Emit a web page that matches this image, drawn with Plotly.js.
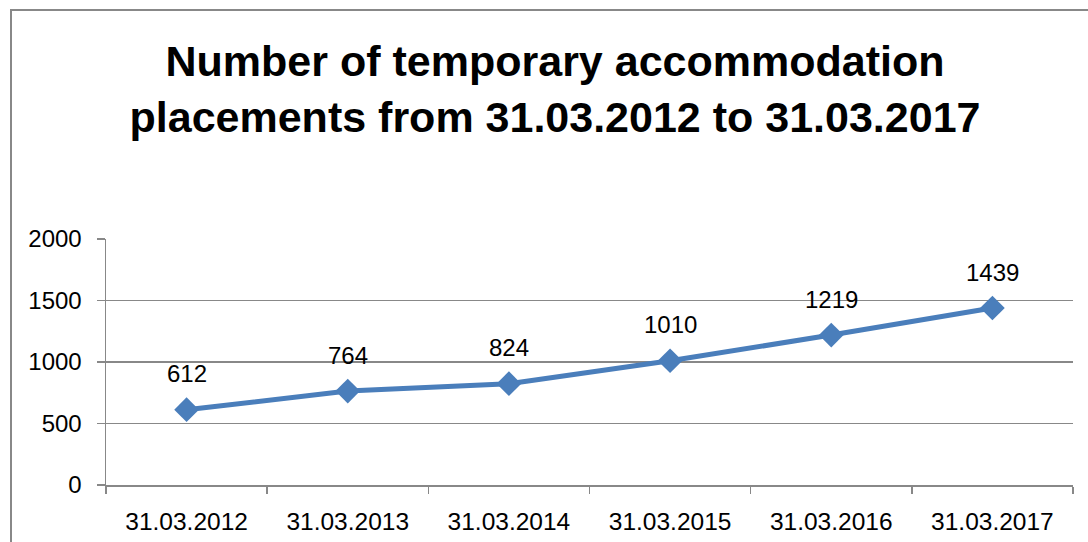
<!DOCTYPE html>
<html>
<head>
<meta charset="utf-8">
<script src="https://cdn.plot.ly/plotly-3.0.1.min.js"></script>
<style>
  html, body { margin: 0; padding: 0; background: #ffffff; }
  #wrap { position: relative; width: 1088px; height: 542px; overflow: hidden; background: #ffffff; }
  #frame { position: absolute; left: 10px; top: 9px; width: 1200px; height: 700px;
           border-left: 2px solid #888888; border-top: 2px solid #888888; box-sizing: border-box; }
  #chart { position: absolute; left: 0; top: 0; width: 1088px; height: 542px; }
</style>
</head>
<body>
<div id="wrap">
  <div id="frame"></div>
  <div id="chart"></div>
</div>
<script>
const categories = ["31.03.2012", "31.03.2013", "31.03.2014", "31.03.2015", "31.03.2016", "31.03.2017"];
const placements = [612, 764, 824, 1010, 1219, 1439];
const yTicks = [0, 500, 1000, 1500, 2000];

const fontFam = "Liberation Sans, Arial, sans-serif";

const trace = {
  type: "scatter",
  mode: "lines+markers",
  x: categories,
  y: placements,
  line: { color: "#4A7EBB", width: 5 },
  marker: { symbol: "diamond", size: 19, color: "#4A7EBB" },
  cliponaxis: false,
  hoverinfo: "skip"
};

const labels = categories.map((c, i) => ({
  x: c,
  y: placements[i],
  text: String(placements[i]),
  showarrow: false,
  yshift: 36,
  font: { family: fontFam, size: 24, color: "#000000" }
}));

const layout = {
  width: 1088,
  height: 542,
  paper_bgcolor: "rgba(0,0,0,0)",
  plot_bgcolor: "rgba(0,0,0,0)",
  margin: { l: 106, r: 15, t: 239, b: 57 },
  showlegend: false,
  annotations: labels,
  title: {
    text: "<b>Number of temporary accommodation<br>placements from 31.03.2012 to 31.03.2017</b>",
    font: { family: fontFam, size: 43, color: "#000000" },
    x: 555 / 1088,
    xref: "container",
    xanchor: "center",
    y: 1 - 76 / 542,
    yref: "container",
    yanchor: "top"
  },
  xaxis: {
    type: "category",
    tickson: "boundaries",
    ticks: "outside",
    ticklen: 7,
    tickwidth: 1.5,
    tickcolor: "#888888",
    showline: true,
    linecolor: "#888888",
    linewidth: 1.5,
    showgrid: false,
    tickfont: { family: fontFam, size: 24.5, color: "#000000" },
    ticklabelstandoff: 14,
    range: [-0.5, 5.5],
    fixedrange: true
  },
  yaxis: {
    range: [0, 2000],
    tickvals: yTicks,
    ticks: "outside",
    ticklen: 8,
    tickwidth: 1.5,
    tickcolor: "#888888",
    showline: true,
    linecolor: "#888888",
    linewidth: 1.5,
    showgrid: true,
    gridcolor: "#888888",
    gridwidth: 1.5,
    zeroline: false,
    tickfont: { family: fontFam, size: 24, color: "#000000" },
    ticklabelstandoff: 10,
    fixedrange: true
  }
};

Plotly.newPlot("chart", [trace], layout, { displayModeBar: false, staticPlot: true });
</script>
</body>
</html>
